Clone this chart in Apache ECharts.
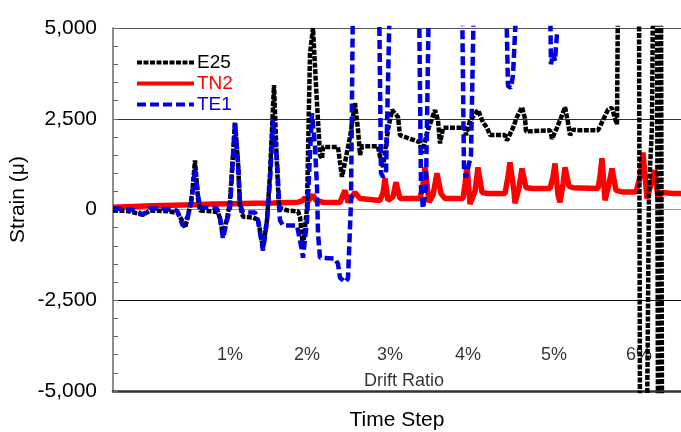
<!DOCTYPE html>
<html>
<head>
<meta charset="utf-8">
<script src="https://cdn.jsdelivr.net/npm/echarts@6/dist/echarts.min.js"></script>
<style>
html,body{margin:0;padding:0;background:#fff;}
#chart{width:681px;height:432px;}
</style>
</head>
<body>
<div id="chart"></div>
<script>
// ---- data (time step, strain in micro-strain) ----
var seriesNames = ['E25', 'TN2', 'TE1'];

var e25Steps = [0,15,30,37,55,65,70,72,75,79,82,85,87,100,105,107,110,114,117,122,125,127,130,140,145,150,154,157,161,164,166,175,185,187,190,194,197,200,203,207,209,210,225,227,229,232,237,242,245,247,249,265,267,270,275,279,280,285,287,307,309,315,322,325,327,330,352,353,357,365,370,374,377,392,394,400,404,409,412,413,437,439,444,449,452,455,457,460,467,485,490,495,499,502,504,505,526,527,534,536,539,540,544,545,547,548,549];
var e25Values = [-30,-40,-150,-30,-50,-100,-360,-500,-200,400,1350,300,-30,-50,-80,-250,-700,-250,200,2400,1300,100,-200,-220,-280,-1050,-300,1000,3430,1200,50,-30,-50,-200,-1050,50,4300,5000,3400,1500,1400,1720,1720,1300,900,1300,2000,2930,2200,1500,1740,1740,1450,1170,2200,2740,2740,2550,2050,1850,1550,2200,2740,2450,1820,2250,2250,2050,2450,2740,2400,2250,2050,2050,1900,2250,2550,2820,2500,2150,2180,1950,2250,2600,2820,2400,2050,2200,2180,2180,2460,2750,2800,2500,2350,6000,6000,-6000,-6000,500,2300,6000,6000,-6000,-6000,6000,-6000];

var tn2Steps = [0,20,40,60,80,100,120,140,160,185,190,192,195,200,203,210,227,230,232,235,242,247,267,270,272,275,280,283,287,307,310,312,316,320,324,328,332,350,352,354,357,362,365,369,375,392,395,397,401,402,406,409,413,420,437,440,442,445,447,450,452,456,460,485,487,489,492,496,499,503,510,523,527,530,534,538,542,545,549,560,568];
var tn2Values = [60,80,100,120,130,150,160,170,180,200,250,330,230,400,250,200,190,400,525,200,470,300,250,450,860,250,350,750,300,300,700,1160,200,400,1000,440,300,300,700,1210,150,500,1160,470,440,440,900,1300,500,170,600,1130,600,580,580,900,1270,400,200,700,1160,640,600,580,900,1410,250,700,1130,525,480,480,900,1570,300,700,1080,300,470,440,440];

var te1Steps = [0,15,22,30,37,47,64,70,72,75,79,82,85,87,97,104,107,110,114,117,122,125,127,130,142,145,150,154,157,160,164,167,170,184,189,190,194,197,199,202,204,205,207,222,225,227,232,235,238,240,266,268,270,273,277,306,308,310,313,316,349,351,353,358,361,393,395,398,400,404,437,438,440,442,444];
var te1Values = [30,0,-30,-140,30,30,-30,-450,-400,-170,300,1130,400,50,50,30,-220,-800,-300,50,2380,1300,150,-80,-80,-300,-1130,-300,800,2460,1350,-300,-440,-440,-1130,-1330,-300,1550,2650,1720,620,-650,-1330,-1350,-1500,-1880,-2000,-1900,200,6000,6000,1000,900,1000,6000,6000,600,30,600,6000,6000,1100,880,1500,6000,6000,3400,3350,3700,6000,6000,4000,4300,4100,4850];

var yTicks = [-5000, -2500, 0, 2500, 5000];
var driftLabels = ['1%', '2%', '3%', '4%', '5%', '6%'];
var driftSteps = [117, 194, 277, 355, 441, 526];
var driftLevel = -4020;
var driftTitle = 'Drift Ratio';
var driftTitleStep = 291;
var driftTitleLevel = -4720;

function pairs(xs, ys) { return xs.map(function (x, i) { return [x, ys[i]]; }); }

var FONT = '"Liberation Sans", Arial, sans-serif';
var chart = echarts.init(document.getElementById('chart'), null, {renderer: 'canvas'});

var annData = driftLabels.map(function (l, i) { return {name: l, value: [driftSteps[i], driftLevel]}; });
annData.push({name: driftTitle, value: [driftTitleStep, driftTitleLevel]});

chart.setOption({
  animation: false,
  backgroundColor: '#fff',
  grid: {left: 113, right: 0, top: 28, bottom: 41, containLabel: false, outerBoundsMode: 'none'},
  legend: {
    left: 135, top: 53, orient: 'vertical', padding: 0,
    itemWidth: 57, itemHeight: 14, itemGap: 2,
    itemStyle: {opacity: 0},
    lineStyle: {width: 4},
    textStyle: {fontFamily: FONT, fontSize: 19, padding: [0, 0, 0, -2]},
    data: [
      {name: 'E25', textStyle: {color: '#000'}},
      {name: 'TN2', textStyle: {color: '#ff0000'}},
      {name: 'TE1', textStyle: {color: '#0000e0'}}
    ]
  },
  xAxis: {
    type: 'value', min: 0, max: 568,
    name: 'Time Step', nameLocation: 'middle', nameGap: 19,
    nameTextStyle: {fontFamily: FONT, fontSize: 21, color: '#000'},
    axisLine: {onZero: false, lineStyle: {color: '#333', width: 2.5}},
    axisTick: {show: false}, axisLabel: {show: false}, splitLine: {show: false}
  },
  yAxis: {
    type: 'value', min: yTicks[0], max: yTicks[yTicks.length - 1], interval: 2500,
    name: 'Strain (\u03bc)', nameLocation: 'middle', nameGap: 84, nameMoveOverlap: false,
    nameTextStyle: {fontFamily: FONT, fontSize: 21, color: '#000', padding: [0, 0, 0, 20]},
    axisLine: {show: true, lineStyle: {color: '#666', width: 1.5}},
    axisTick: {show: true, inside: true, length: 5, lineStyle: {color: '#666'}},
    minorTick: {show: true, splitNumber: 5, length: 5, lineStyle: {color: '#666'}},
    axisLabel: {
      fontFamily: FONT, fontSize: 21, color: '#000', margin: 16,
      formatter: function (v) { return v.toLocaleString('en-US'); }
    },
    splitLine: {show: true, lineStyle: {color: ['#333', '#111', '#999', '#333', '#555'], width: 1.2}}
  },
  series: [
    {
      name: 'TN2', type: 'line', data: pairs(tn2Steps, tn2Values),
      symbol: 'none', clip: true, z: 2,
      lineStyle: {color: '#ff0000', width: 5.5, type: 'solid'},
      itemStyle: {color: '#ff0000'}
    },
    {
      name: 'E25', type: 'line', data: pairs(e25Steps, e25Values),
      symbol: 'none', clip: true, z: 3,
      lineStyle: {color: '#000', width: 4.5, type: [5, 1.5], cap: 'butt'},
      itemStyle: {color: '#000'}
    },
    {
      name: 'TE1', type: 'line', data: pairs(te1Steps, te1Values),
      symbol: 'none', clip: true, z: 4,
      lineStyle: {color: '#0000e0', width: 4.5, type: [9, 4], cap: 'butt'},
      itemStyle: {color: '#0000e0'}
    },
    {
      name: 'annotations', type: 'scatter', data: annData,
      symbolSize: 0, silent: true, z: 5,
      label: {
        show: true, position: 'inside', color: '#000',
        fontFamily: FONT, fontSize: 18,
        formatter: function (p) { return p.name; }
      }
    }
  ]
});
</script>
</body>
</html>
